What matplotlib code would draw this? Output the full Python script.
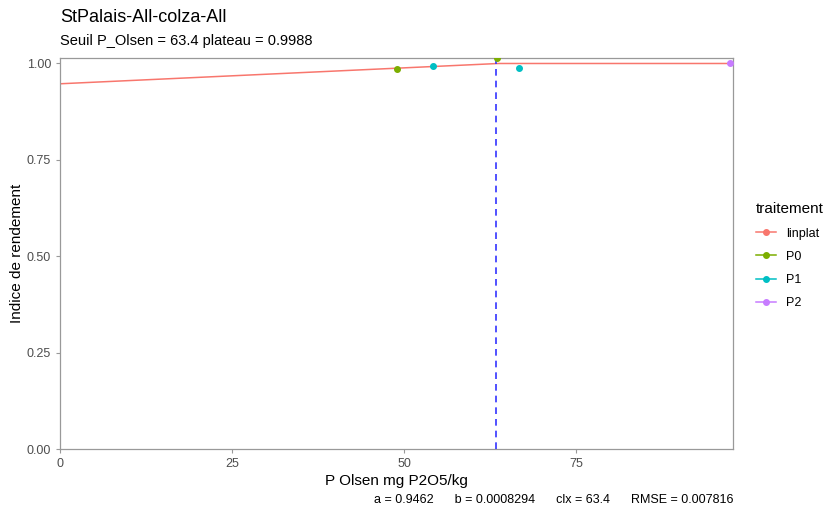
import matplotlib
matplotlib.use("Agg")
import matplotlib.pyplot as plt
import numpy as np
from matplotlib.lines import Line2D

# linear-plateau fit parameters
a = 0.9462
b = 0.0008294
clx = 63.4
plateau = 0.9988
rmse = 0.007816

# observed points per treatment
p0_x = [49.0, 63.5]
p0_y = [0.9845, 1.012]
p1_x = [54.2, 66.7]
p1_y = [0.992, 0.987]
p2_x = [97.4]
p2_y = [0.9995]

x_max = 97.8
xticks = [0, 25, 50, 75]
yticks = [0.0, 0.25, 0.50, 0.75, 1.00]

colors = {"linplat": "#F8766D", "P0": "#7CAE00", "P1": "#00BFC4", "P2": "#C77CFF"}

plt.rcParams['font.family'] = ['Liberation Sans', 'DejaVu Sans']
fig = plt.figure(figsize=(8.26, 5.11), dpi=100)
ax = fig.add_axes([60/826, 1 - 449/511, (733-60)/826, (449-58)/511])

xs = np.linspace(0, x_max, 400)
ys = np.where(xs < clx, a + b * xs, plateau)
ax.plot(xs, ys, color=colors["linplat"], lw=1.1, zorder=2)
ax.axvline(clx, color="#3333FF", ls=(0, (4, 3)), lw=1.2, zorder=3)

ax.scatter(p0_x, p0_y, s=16, color=colors["P0"], zorder=4)
ax.scatter(p1_x, p1_y, s=16, color=colors["P1"], zorder=4)
ax.scatter(p2_x, p2_y, s=16, color=colors["P2"], zorder=4)

ax.set_xlim(0, x_max)
ax.set_ylim(0, 1.013)
ax.set_xticks(xticks)
ax.set_xticklabels([str(t) for t in xticks])
ax.set_yticks(yticks)
ax.set_yticklabels(["0.00", "0.25", "0.50", "0.75", "1.00"])
for s in ax.spines.values():
    s.set_color("#999999")
    s.set_linewidth(0.9)
ax.tick_params(colors="#999999", labelcolor="#4d4d4d", labelsize=9, length=3)

ax.set_xlabel("P Olsen mg P2O5/kg", fontsize=11, labelpad=3)
ax.set_ylabel("Indice de rendement", fontsize=11, labelpad=2)

fig.text(60/826, 1 - 17/511, "StPalais-All-colza-All", fontsize=13, va="center")
fig.text(60/826, 1 - 41/511, f"Seuil P_Olsen = {clx} plateau = {plateau}", fontsize=10.5, va="center")
fig.text(733/826, 1 - 500/511,
         f"a = {a}      b = {b}      clx = {clx}      RMSE = {rmse}",
         fontsize=9, ha="right", va="center")

handles = [Line2D([0], [0], color=colors[k], marker="o", markersize=4, lw=1.1)
           for k in ["linplat", "P0", "P1", "P2"]]
leg = fig.legend(handles, ["linplat", "P0", "P1", "P2"], title="traitement",
                 loc="upper left", bbox_to_anchor=(745/826, 1 - 191/511),
                 frameon=False, fontsize=9, title_fontsize=11,
                 handlelength=1.6, labelspacing=0.9)
leg._legend_box.align = "left"

fig.savefig("out.png", dpi=100)
